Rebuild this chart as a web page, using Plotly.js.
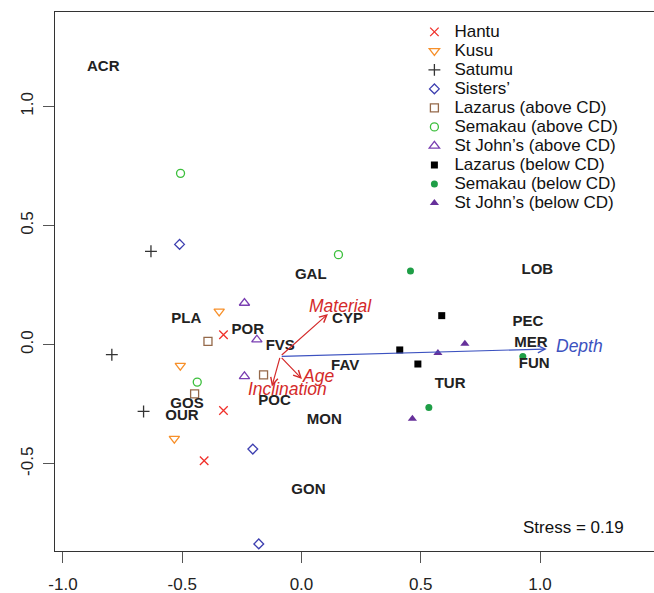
<!DOCTYPE html>
<html><head><meta charset="utf-8">
<script src="https://cdn.plot.ly/plotly-3.0.1.min.js"></script>
<style>html,body{margin:0;padding:0;overflow:hidden;background:#fff}#chart{width:658px;height:593px}</style>
</head><body><div id="chart"></div>
<script>
// ---- data ----
const groupNames = ['Hantu','Kusu','Satumu','Sisters’','Lazarus (above CD)','Semakau (above CD)','St John’s (above CD)','Lazarus (below CD)','Semakau (below CD)','St John’s (below CD)'];
const hantuX = [-0.327, -0.327, -0.408];
const hantuY = [0.042, -0.276, -0.487];
const kusuX = [-0.345, -0.508, -0.533];
const kusuY = [0.140, -0.088, -0.394];
const satumuX = [-0.631, -0.795, -0.662];
const satumuY = [0.392, -0.042, -0.280];
const sistersX = [-0.511, -0.204, -0.179];
const sistersY = [0.421, -0.438, -0.836];
const lazAboveX = [-0.392, -0.159, -0.448];
const lazAboveY = [0.014, -0.127, -0.206];
const semAboveX = [-0.507, 0.155, -0.437];
const semAboveY = [0.719, 0.378, -0.157];
const stjAboveX = [-0.239, -0.187, -0.239];
const stjAboveY = [0.175, 0.021, -0.133];
const lazBelowX = [0.588, 0.412, 0.488];
const lazBelowY = [0.122, -0.022, -0.081];
const semBelowX = [0.457, 0.928, 0.534];
const semBelowY = [0.309, -0.049, -0.263];
const stjBelowX = [0.572, 0.685, 0.465];
const stjBelowY = [-0.035, 0.004, -0.311];

const speciesNames = ['ACR','GAL','LOB','PLA','POR','CYP','PEC','FVS','MER','FUN','FAV','TUR','POC','GOS','OUR','MON','GON'];
const speciesX = [-0.831, 0.039, 0.989, -0.483, -0.225, 0.193, 0.949, -0.089, 0.962, 0.976, 0.183, 0.623, -0.113, -0.480, -0.501, 0.096, 0.029];
const speciesY = [1.164, 0.290, 0.311, 0.108, 0.059, 0.105, 0.094, -0.007, 0.007, -0.081, -0.091, -0.165, -0.236, -0.248, -0.301, -0.319, -0.611];

const vecNames = ['Material', 'Age', 'Inclination', 'Depth'];
const vecOriginX = -0.089;
const vecOriginY = -0.049;
const vecX = [0.111, 0.002, -0.124, 1.028];
const vecY = [0.129, -0.144, -0.175, -0.018];
const vecLabelX = [0.162, 0.071, -0.058, 1.165];
const vecLabelY = [0.164, -0.130, -0.186, -0.007];

const xTicks = [-1.0, -0.5, 0.0, 0.5, 1.0];
const yTicks = [-0.5, 0.0, 0.5, 1.0];
const stressText = 'Stress = 0.19';

// ---- styles ----
const seriesX = [hantuX, kusuX, satumuX, sistersX, lazAboveX, semAboveX, stjAboveX, lazBelowX, semBelowX, stjBelowX];
const seriesY = [hantuY, kusuY, satumuY, sistersY, lazAboveY, semAboveY, stjAboveY, lazBelowY, semBelowY, stjBelowY];
const styles = [
  {symbol:'x-thin-open', color:'#f0302a', size:8.5, lw:1.3},
  {symbol:'triangle-down-open', color:'#f7902a', size:9, lw:1.3},
  {symbol:'cross-thin-open', color:'#333333', size:8.5, lw:1.3},
  {symbol:'diamond-open', color:'#3d3fb0', size:7.5, lw:1.3},
  {symbol:'square-open', color:'#95694a', size:8, lw:1.3},
  {symbol:'circle-open', color:'#3cbf3c', size:8, lw:1.3},
  {symbol:'triangle-up-open', color:'#7a3fb2', size:9, lw:1.3},
  {symbol:'square', color:'#000000', size:7, lw:0},
  {symbol:'circle', color:'#1e9e46', size:7, lw:0},
  {symbol:'triangle-up', color:'#66309a', size:8, lw:0}
];
const vecColors = ['#d42a2a', '#d42a2a', '#d42a2a', '#3c52c0'];

const FONT = 'Arial, "Liberation Sans", Helvetica, sans-serif';

const traces = groupNames.map((name, i) => ({
  type: 'scatter', mode: 'markers',
  name: '<span style="font-size:17px">' + name + '</span>',
  x: seriesX[i], y: seriesY[i],
  marker: {symbol: styles[i].symbol, size: styles[i].size, color: styles[i].color,
           line: {color: styles[i].color, width: styles[i].lw}},
  hoverinfo: 'skip'
}));
traces.push({
  type: 'scatter', mode: 'text', x: speciesX, y: speciesY, text: speciesNames,
  textposition: 'middle center', showlegend: false, hoverinfo: 'skip',
  textfont: {family: FONT, size: 15, color: '#222222', weight: 'bold'}
});

const annotations = [];
vecNames.forEach((n, i) => {
  annotations.push({
    x: vecX[i], y: vecY[i], xref: 'x', yref: 'y',
    ax: vecOriginX, ay: vecOriginY, axref: 'x', ayref: 'y',
    text: '', showarrow: true, arrowhead: 5, arrowsize: 1.2, arrowwidth: 1.2,
    arrowcolor: vecColors[i], standoff: 0, startstandoff: 0
  });
  annotations.push({
    x: vecLabelX[i], y: vecLabelY[i], xref: 'x', yref: 'y', text: n, showarrow: false,
    xanchor: 'center', yanchor: 'middle',
    font: {family: FONT, size: 17.5, color: vecColors[i], style: 'italic'}
  });
});
annotations.push({
  xref: 'paper', yref: 'paper', x: 0.862, y: 0.0427, text: stressText, showarrow: false,
  xanchor: 'center', yanchor: 'middle', font: {family: FONT, size: 17, color: '#111111'}
});

const axisCommon = {
  showgrid: false, zeroline: false, showline: true, mirror: true,
  linecolor: '#333333', linewidth: 1, ticks: 'outside', ticklen: 11, tickwidth: 1,
  tickcolor: '#555555', tickfont: {family: FONT, size: 17, color: '#222222'}
};

const layout = {
  width: 658, height: 593,
  margin: {l: 55, r: 2, t: 12, b: 42},
  paper_bgcolor: '#ffffff', plot_bgcolor: '#ffffff',
  font: {family: FONT},
  showlegend: true,
  legend: {x: 0.598, y: 0.990, xanchor: 'left', yanchor: 'top',
           bgcolor: 'rgba(0,0,0,0)', borderwidth: 0,
           font: {family: FONT, size: 12, color: '#111111'}, tracegroupgap: 0},
  xaxis: Object.assign({}, axisCommon, {range: [-1.0333, 1.4863], tickvals: xTicks,
           ticktext: xTicks.map(v => v.toFixed(1)), ticklabelstandoff: 7}),
  yaxis: Object.assign({}, axisCommon, {range: [-0.8657, 1.3962], tickvals: yTicks,
           ticktext: yTicks.map(v => v.toFixed(1)), tickangle: -90, ticklabelstandoff: 3}),
  annotations: annotations
};

Plotly.newPlot('chart', traces, layout, {displayModeBar: false, staticPlot: true});
</script>
</body></html>
